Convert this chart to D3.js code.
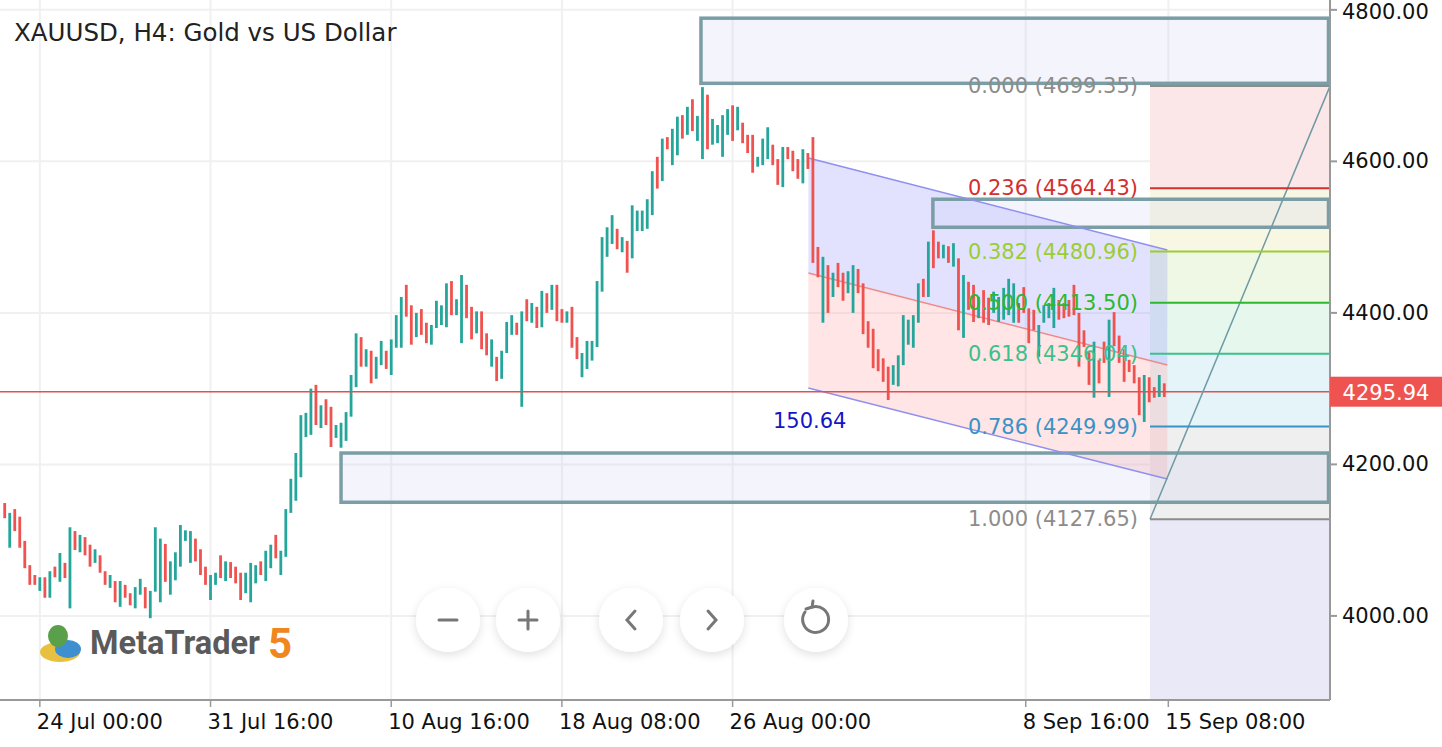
<!DOCTYPE html>
<html><head><meta charset="utf-8">
<script src="https://cdn.jsdelivr.net/npm/d3@7"></script>
<style>body{margin:0;background:#fff}svg{display:block}</style>
</head><body>
<svg id="c" width="1442" height="747"></svg>
<script>
const highs=[4149,4136,4141,4131,4099,4067,4054,4051,4051,4059,4065,4083,4070,4117,4112,4107,4104,4094,4088,4080,4059,4054,4046,4046,4041,4030,4038,4049,4038,4033,4117,4102,4095,4072,4084,4120,4113,4112,4102,4088,4065,4054,4057,4080,4072,4071,4065,4057,4057,4070,4067,4072,4086,4094,4107,4086,4141,4181,4215,4265,4268,4300,4305,4278,4286,4276,4252,4255,4269,4318,4373,4368,4352,4350,4342,4363,4350,4365,4397,4421,4437,4410,4400,4405,4387,4384,4416,4410,4439,4442,4418,4450,4437,4408,4402,4402,4373,4365,4342,4350,4388,4397,4387,4402,4418,4413,4408,4429,4426,4437,4437,4405,4402,4408,4368,4347,4363,4363,4442,4500,4513,4529,4511,4500,4495,4542,4535,4535,4550,4587,4606,4630,4632,4643,4659,4661,4672,4682,4660,4698,4688,4656,4648,4661,4669,4674,4672,4651,4635,4635,4606,4630,4645,4622,4603,4619,4619,4614,4603,4616,4611,4632,4487,4474,4463,4453,4466,4453,4455,4463,4458,4439,4389,4379,4352,4340,4329,4331,4344,4397,4391,4397,4439,4445,4494,4509,4494,4490,4488,4492,4472,4450,4441,4437,4421,4430,4420,4428,4421,4433,4445,4439,4413,4434,4406,4404,4384,4410,4413,4433,4417,4413,4417,4437,4400,4377,4348,4362,4338,4362,4391,4401,4370,4352,4338,4331,4315,4318,4315,4302,4318,4307];
const lows=[4129,4090,4112,4090,4063,4041,4041,4033,4024,4024,4051,4045,4050,4010,4087,4084,4080,4065,4070,4057,4041,4037,4018,4012,4024,4014,4010,4028,4010,3997,4032,4018,4045,4028,4047,4065,4099,4070,4072,4054,4041,4021,4041,4050,4046,4050,4043,4021,4030,4018,4043,4054,4046,4063,4076,4054,4078,4136,4152,4183,4236,4239,4252,4248,4252,4223,4235,4222,4231,4263,4302,4329,4329,4307,4313,4331,4326,4318,4354,4354,4395,4358,4368,4371,4360,4358,4380,4384,4381,4397,4397,4360,4393,4365,4373,4352,4344,4329,4310,4313,4347,4371,4371,4276,4389,4387,4380,4381,4400,4404,4389,4387,4387,4354,4339,4315,4326,4337,4355,4428,4474,4491,4484,4480,4453,4472,4508,4508,4511,4529,4564,4574,4616,4595,4608,4630,4635,4640,4627,4603,4616,4622,4624,4606,4635,4627,4641,4624,4611,4585,4593,4595,4603,4595,4569,4566,4603,4587,4577,4571,4590,4466,4447,4387,4400,4421,4434,4416,4426,4400,4426,4372,4354,4327,4323,4309,4285,4305,4303,4331,4358,4354,4387,4421,4421,4459,4472,4472,4466,4461,4377,4367,4404,4388,4393,4387,4384,4400,4388,4391,4397,4387,4387,4400,4360,4377,4342,4387,4393,4380,4391,4393,4395,4397,4329,4355,4305,4288,4307,4334,4289,4356,4334,4309,4322,4307,4265,4256,4282,4288,4289,4289];
const dirGroups=["rgrrrrrgrg","rgrgrgrrgr","rgrgrrggrg","ggrgggggrr","rggrgrrrgg","grggrggggg","ggrgrrgggg","grgrggrggg","rrgrrggggr","ggrrgrrgrg","ggrgrgrgrg","rrgrrggggg","ggrgrggggg","rgrggrgrgg","rggggrgrrr","gggrrgrrrg","rrrgrgrrgg","rrrrrrrggg","gggrgrrgrg","rgrrgrrggg","ggrrrrgggg","rrrrrrrgrr","grrrrrrgrrgr"];
const dirs=dirGroups.join("");
const lastPrice=4295.94;
const priceTicks=[4000,4200,4400,4600,4800];
const timeIdx=[7,41,77,111,145,203.4,231.8];
const timeLabels=["24 Jul 00:00","31 Jul 16:00","10 Aug 16:00","18 Aug 08:00","26 Aug 00:00","8 Sep 16:00","15 Sep 08:00"];
const zoneStart=[138.7,184.9,67];
const zoneHigh=[4789,4550,4215];
const zoneLow=[4703,4513,4150];
const fibRatios=[0,0.236,0.382,0.5,0.618,0.786,1];
const fibPrices=[4699.35,4564.43,4480.96,4413.50,4346.04,4249.99,4127.65];
const fibColors=["#8c8c8c","#d32f2f","#9acd32","#2db82d","#3cc08c","#3a93c6","#8c8c8c"];
const fibFills=["#fbe7e7","#f8f7e4","#eef8e4","#e6f7ee","#e4f4f8","#efefef"];
const chanIdx=[160.1,231.6];
const chanUpper=[4604.4,4483];
const chanMid=[4452.6,4331.2];
const chanLower=[4300.8,4180.7];
const chanLabel="150.64";

const svg=d3.select("#c");
const W=1330,H=700;
const x=d3.scaleLinear().domain([0,231]).range([4.7,1164.3]);
const y=d3.scaleLinear().domain([3889,4813]).range([700,0]);
const font="'DejaVu Sans', sans-serif";

svg.append("g").selectAll("line").data(priceTicks).join("line")
 .attr("x1",0).attr("x2",W).attr("y1",d=>y(d)).attr("y2",d=>y(d)).attr("stroke","#f0f0f0").attr("stroke-width",2);
svg.append("g").selectAll("line").data(timeIdx).join("line")
 .attr("x1",d=>x(d)).attr("x2",d=>x(d)).attr("y1",0).attr("y2",H).attr("stroke","#f0f0f0").attr("stroke-width",2);

const fx0=1150;
svg.append("rect").attr("x",fx0).attr("width",W-fx0).attr("y",y(fibPrices[6])).attr("height",H-y(fibPrices[6])).attr("fill","#e9e9f7");
svg.append("g").selectAll("rect").data(fibFills).join("rect")
 .attr("x",fx0).attr("width",W-fx0).attr("y",(d,i)=>y(fibPrices[i])).attr("height",(d,i)=>y(fibPrices[i+1])-y(fibPrices[i])).attr("fill",d=>d);

const cx0=x(chanIdx[0]),cx1=x(chanIdx[1]);
const poly=(a,b)=>[[cx0,y(a[0])],[cx1,y(a[1])],[cx1,y(b[1])],[cx0,y(b[0])]].join(" ");
svg.append("polygon").attr("points",poly(chanUpper,chanMid)).attr("fill","rgba(140,140,255,0.25)");
svg.append("polygon").attr("points",poly(chanMid,chanLower)).attr("fill","rgba(255,150,150,0.25)");

svg.append("g").selectAll("rect").data(zoneStart).join("rect")
 .attr("x",d=>x(d)).attr("width",d=>W-x(d)-1.5).attr("y",(d,i)=>y(zoneHigh[i])).attr("height",(d,i)=>y(zoneLow[i])-y(zoneHigh[i]))
 .attr("fill","rgba(200,200,240,0.2)").attr("stroke","#7b9ea6").attr("stroke-width",3.5);

[[chanUpper,"#8f8ff0"],[chanMid,"#f08a8a"],[chanLower,"#8f8ff0"]].forEach(([a,c])=>{
 svg.append("line").attr("x1",cx0).attr("x2",cx1).attr("y1",y(a[0])).attr("y2",y(a[1])).attr("stroke",c).attr("stroke-width",1.5);
});
svg.append("text").attr("x",773).attr("y",428).attr("fill","#1515c8").attr("font-family",font).attr("font-size",21).text(chanLabel);

const bars=svg.append("g");
highs.forEach((h,i)=>{
 bars.append("rect").attr("x",x(i)-1.4).attr("width",2.8).attr("y",y(h)).attr("height",Math.max(2,y(lows[i])-y(h)))
  .attr("fill",dirs[i]==="g"?"#26a69a":"#ef5350");
});

svg.append("line").attr("x1",0).attr("x2",W).attr("y1",y(lastPrice)).attr("y2",y(lastPrice)).attr("stroke","#e05050").attr("stroke-width",1.5);

svg.append("line").attr("x1",fx0).attr("y1",y(fibPrices[6])).attr("x2",W).attr("y2",y(fibPrices[0])).attr("stroke","#6f9aa3").attr("stroke-width",1.5);
fibPrices.forEach((p,i)=>{
 svg.append("line").attr("x1",fx0).attr("x2",W).attr("y1",y(p)).attr("y2",y(p)).attr("stroke",fibColors[i]).attr("stroke-width",2);
 svg.append("text").attr("x",1138).attr("y",y(p)+7).attr("text-anchor","end").attr("fill",fibColors[i]).attr("font-family",font).attr("font-size",21)
  .text(fibRatios[i].toFixed(3)+" ("+p.toFixed(2)+")");
});

svg.append("line").attr("x1",W).attr("x2",W).attr("y1",0).attr("y2",H).attr("stroke","#999").attr("stroke-width",2);
const ra=svg.append("g");
priceTicks.forEach(p=>{
 ra.append("line").attr("x1",W).attr("x2",W+7).attr("y1",y(p)).attr("y2",y(p)).attr("stroke","#999").attr("stroke-width",2);
 ra.append("text").attr("x",1342).attr("y",Math.max(y(p)+7,19)).attr("font-family",font).attr("font-size",21).attr("fill","#111").text(p.toFixed(2));
});
svg.append("rect").attr("x",W).attr("y",y(lastPrice)-15).attr("width",112).attr("height",30).attr("fill","#ef5350");
svg.append("text").attr("x",1386).attr("y",y(lastPrice)+8).attr("text-anchor","middle").attr("font-family",font).attr("font-size",21).attr("fill","#fff").text(lastPrice.toFixed(2));

svg.append("line").attr("x1",0).attr("x2",W).attr("y1",H).attr("y2",H).attr("stroke","#999").attr("stroke-width",2);
timeIdx.forEach((t,i)=>{
 svg.append("line").attr("x1",x(t)).attr("x2",x(t)).attr("y1",H).attr("y2",H+7).attr("stroke","#999").attr("stroke-width",1.5);
 svg.append("text").attr("x",x(t)-3).attr("y",H+29).attr("font-family",font).attr("font-size",21).attr("fill","#111").text(timeLabels[i]);
});

svg.append("text").attr("x",14).attr("y",41).attr("font-family",font).attr("font-size",24.5).attr("fill","#222").text("XAUUSD, H4: Gold vs US Dollar");

const defs=svg.append("defs");
const f=defs.append("filter").attr("id","sh").attr("x","-50%").attr("y","-50%").attr("width","200%").attr("height","200%");
f.append("feDropShadow").attr("dx",0).attr("dy",3).attr("stdDeviation",5).attr("flood-color","#000").attr("flood-opacity",0.12);
const btnX=[448,528,631,712,816];
btnX.forEach(bx=>svg.append("circle").attr("cx",bx).attr("cy",620).attr("r",32).attr("fill","#fff").attr("filter","url(#sh)"));
const g=svg.append("g").attr("stroke","#777").attr("stroke-width",3).attr("fill","none").attr("stroke-linecap","round");
g.append("line").attr("x1",439).attr("x2",457).attr("y1",620).attr("y2",620);
g.append("line").attr("x1",519).attr("x2",537).attr("y1",620).attr("y2",620);
g.append("line").attr("x1",528).attr("x2",528).attr("y1",611).attr("y2",629);
g.append("polyline").attr("points","635,611 627,620 635,629");
g.append("polyline").attr("points","708,611 716,620 708,629");
g.append("path").attr("d","M812,607 A13,13 0 1 1 805,612");
g.append("polyline").attr("points","813,601 812,607 806,609");

const lg=svg.append("g");
lg.append("ellipse").attr("cx",60).attr("cy",652).attr("rx",20).attr("ry",10).attr("fill","#e8c040");
lg.append("ellipse").attr("cx",68).attr("cy",649).attr("rx",13).attr("ry",9).attr("fill","#3d8fd0");
lg.append("ellipse").attr("cx",58).attr("cy",636).attr("rx",10).attr("ry",11).attr("fill","#5aa04a");
lg.append("text").attr("x",90).attr("y",654).attr("font-family","'Liberation Sans Narrow','Roboto',sans-serif").attr("font-weight","bold").attr("font-size",34).attr("fill","#5a5a5a").attr("textLength",170).attr("lengthAdjust","spacingAndGlyphs").text("MetaTrader");
lg.append("text").attr("x",268).attr("y",658).attr("font-family","'Liberation Sans Narrow','Roboto',sans-serif").attr("font-weight","bold").attr("font-size",42).attr("fill","#f0861e").text("5");
</script>
</body></html>
